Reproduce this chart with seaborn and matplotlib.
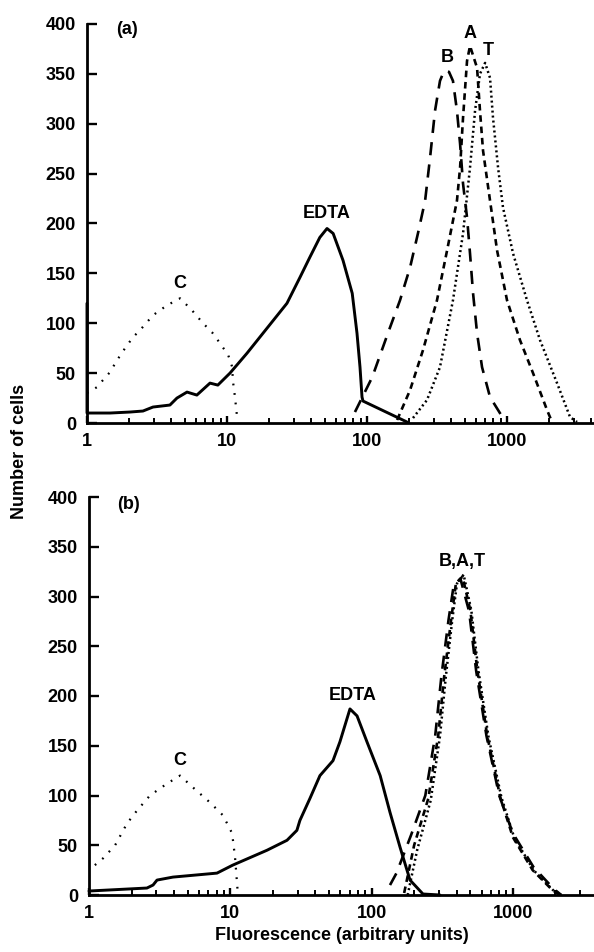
import numpy as np
import matplotlib
matplotlib.use("Agg")
import matplotlib.pyplot as plt
from matplotlib.ticker import LogLocator, NullFormatter, FixedLocator, FixedFormatter
import seaborn as sns

# ---- panel (a) values ----
c_a_x = [1.0, 1.18, 1.30, 1.46, 1.64, 1.87, 2.13, 2.39, 2.68, 2.96, 3.32, 3.73, 4.62,
         5.62, 6.74, 7.81, 8.91, 10.2, 10.9, 11.0, 11.4, 11.8]
c_a_y = [30, 36, 43, 51, 63, 75, 86, 93, 101, 108, 113, 118, 125,
         113, 100, 91, 80, 68, 56, 43, 26, 6]

edta_a_x = [1, 1, 1.46, 2.03, 2.51, 2.96, 3.91, 4.39, 5.18, 6.09, 7.56, 8.6, 10.5, 13.9,
            19.3, 26.8, 33.2, 39.0, 46.0, 51.8, 57.3, 67.4, 78.4, 84.8, 89.1, 92.1, 93.6, 193]
edta_a_y = [120, 10, 10, 11, 12, 16, 18, 25, 31, 28, 40, 38, 50, 70,
            95, 120, 146, 166, 186, 195, 190, 163, 130, 90, 56, 26, 22, 1]

b_a_x = [82, 109, 141, 172, 203, 231, 260, 282, 306, 332, 355, 385, 411, 439, 462, 485,
         518, 544, 572, 611, 663, 756, 936]
b_a_y = [11, 46, 90, 123, 156, 190, 223, 266, 313, 343, 353, 352, 343, 313, 280, 240,
         206, 170, 130, 90, 56, 26, 5]

a_a_x = [164, 203, 251, 316, 373, 439, 462, 485, 518, 544, 611, 641, 674, 756, 849,
         1000, 1238, 1534, 1931, 2096]
a_a_y = [3, 33, 73, 123, 173, 223, 256, 306, 363, 378, 356, 313, 273, 223, 173,
         123, 83, 50, 13, 1]

t_a_x = [213, 268, 332, 411, 485, 544, 591, 641, 697, 756, 794, 863, 936, 1104, 1389,
         1721, 2276, 2818, 3162]
t_a_y = [5, 23, 56, 123, 190, 256, 313, 350, 361, 346, 306, 256, 216, 170, 123,
         83, 40, 6, 1]

# ---- panel (b) ----
c_b_x = [1.10, 1.26, 1.53, 1.86, 2.19, 2.70, 3.57, 4.41, 5.45, 7.18, 8.88, 10.3, 10.8, 11.3]
c_b_y = [30, 37, 50, 72, 85, 100, 112, 120, 108, 93, 80, 62, 38, 2]

edta_b_x = [1, 2.57, 2.84, 3.03, 3.93, 8.05, 10.4, 18.2, 25.2, 29.6, 31.1, 36.6, 43.1,
            53.3, 59.7, 70.3, 78.9, 92.7, 115, 135, 159, 187, 231, 305]
edta_b_y = [4, 7, 10, 15, 18, 22, 30, 45, 55, 65, 75, 97, 120,
            135, 154, 187, 180, 154, 120, 83, 48, 15, 1, 0]

b_b_x = [135, 150, 190, 240, 282, 312, 350, 380, 425, 490, 550, 650, 800, 1000, 1400, 1950, 2200]
b_b_y = [10, 22, 60, 100, 160, 220, 276, 310, 318, 285, 225, 160, 100, 62, 28, 6, 0]

a_b_x = [170, 200, 252, 296, 326, 365, 395, 440, 500, 560, 660, 815, 1000, 1380, 1900, 2150]
a_b_y = [2, 50, 97, 160, 219, 276, 313, 320, 286, 226, 159, 98, 58, 25, 5, 0]

t_b_x = [180, 210, 262, 305, 335, 372, 402, 448, 508, 570, 672, 830, 1020, 1400, 1920, 2200]
t_b_y = [0, 45, 95, 160, 219, 276, 313, 322, 286, 226, 159, 98, 58, 25, 5, 0]

x_ticks = [1, 10, 100, 1000]
x_ticklabels = ["1", "10", "100", "1000"]
y_ticks = [0, 50, 100, 150, 200, 250, 300, 350, 400]

sns.set_style("ticks")
plt.rcParams["font.family"] = ["Liberation Sans", "DejaVu Sans"]
plt.rcParams["font.weight"] = "bold"
plt.rcParams["font.size"] = 13
for key in ["text.color", "axes.labelcolor", "xtick.color", "ytick.color", "axes.edgecolor"]:
    plt.rcParams[key] = "black"

fig = plt.figure(figsize=(5.94, 9.52), dpi=100)
ax_a = fig.add_axes([87 / 594, 1 - 423 / 952, (594 - 87) / 594, 399 / 952])
ax_b = fig.add_axes([89 / 594, 1 - 895 / 952, (594 - 89) / 594, 398 / 952])

solid = dict(color="black", lw=2.1, linestyle="-")
long_dash = dict(color="black", lw=1.9, linestyle=(0, (5, 3.5)))
short_dash = dict(color="black", lw=1.9, linestyle=(0, (2.5, 1.8)))
dotted = dict(color="black", lw=1.8, linestyle=(0, (0.8, 1.2)))
sparse_dot = dict(color="black", lw=1.6, linestyle=(0, (0.8, 3.5)))


def curve(ax, x, y, style):
    sns.lineplot(x=x, y=y, ax=ax, estimator=None, sort=False, clip_on=False, **style)


curve(ax_a, c_a_x, c_a_y, sparse_dot)
curve(ax_a, edta_a_x, edta_a_y, solid)
curve(ax_a, b_a_x, b_a_y, long_dash)
curve(ax_a, a_a_x, a_a_y, short_dash)
curve(ax_a, t_a_x, t_a_y, dotted)

curve(ax_b, c_b_x, c_b_y, sparse_dot)
curve(ax_b, edta_b_x, edta_b_y, solid)
curve(ax_b, b_b_x, b_b_y, long_dash)
curve(ax_b, a_b_x, a_b_y, short_dash)
curve(ax_b, t_b_x, t_b_y, dotted)

# labels on curves
ax_a.text(1.93, 394, "(a)", ha="center", va="center")
ax_a.text(4.62, 140, "C", ha="center", va="center")
ax_a.text(51.8, 210, "EDTA", ha="center", va="center")
ax_a.text(373, 366, "B", ha="center", va="center")
ax_a.text(544, 390, "A", ha="center", va="center")
ax_a.text(731, 373, "T", ha="center", va="center")

ax_b.text(1.89, 392, "(b)", ha="center", va="center")
ax_b.text(4.4, 135, "C", ha="center", va="center")
ax_b.text(74, 200, "EDTA", ha="center", va="center")
ax_b.text(436, 335, "B,A,T", ha="center", va="center")

for ax, xmax in [(ax_a, 4180), (ax_b, 3750)]:
    ax.set_xscale("log")
    ax.set_xlim(1, xmax)
    ax.set_ylim(0, 400)
    ax.xaxis.set_major_locator(FixedLocator(x_ticks))
    ax.xaxis.set_major_formatter(FixedFormatter(x_ticklabels))
    ax.xaxis.set_minor_locator(LogLocator(base=10, subs=np.arange(2, 10)))
    ax.xaxis.set_minor_formatter(NullFormatter())
    ax.set_yticks(y_ticks)
    ax.tick_params(axis="both", which="major", direction="in", width=1.7, labelsize=13)
    ax.tick_params(axis="y", which="major", length=7, pad=8)
    ax.tick_params(axis="x", which="major", length=5, pad=7)
    ax.tick_params(axis="x", which="minor", direction="in", length=3.5, width=1.4)
    sns.despine(ax=ax)
    for side in ["left", "bottom"]:
        ax.spines[side].set_linewidth(2.0)
    ax.set_xlabel("")
    ax.set_ylabel("")
    ax.patch.set_alpha(0)

ax_b.set_xlabel("Fluorescence (arbitrary units)", fontsize=13, fontweight="bold", labelpad=4)
fig.text(20 / 594, 1 - 451 / 952, "Number of cells", rotation=90, ha="center",
         va="center", fontsize=13, fontweight="bold")

fig.savefig("out.png", dpi=100)
